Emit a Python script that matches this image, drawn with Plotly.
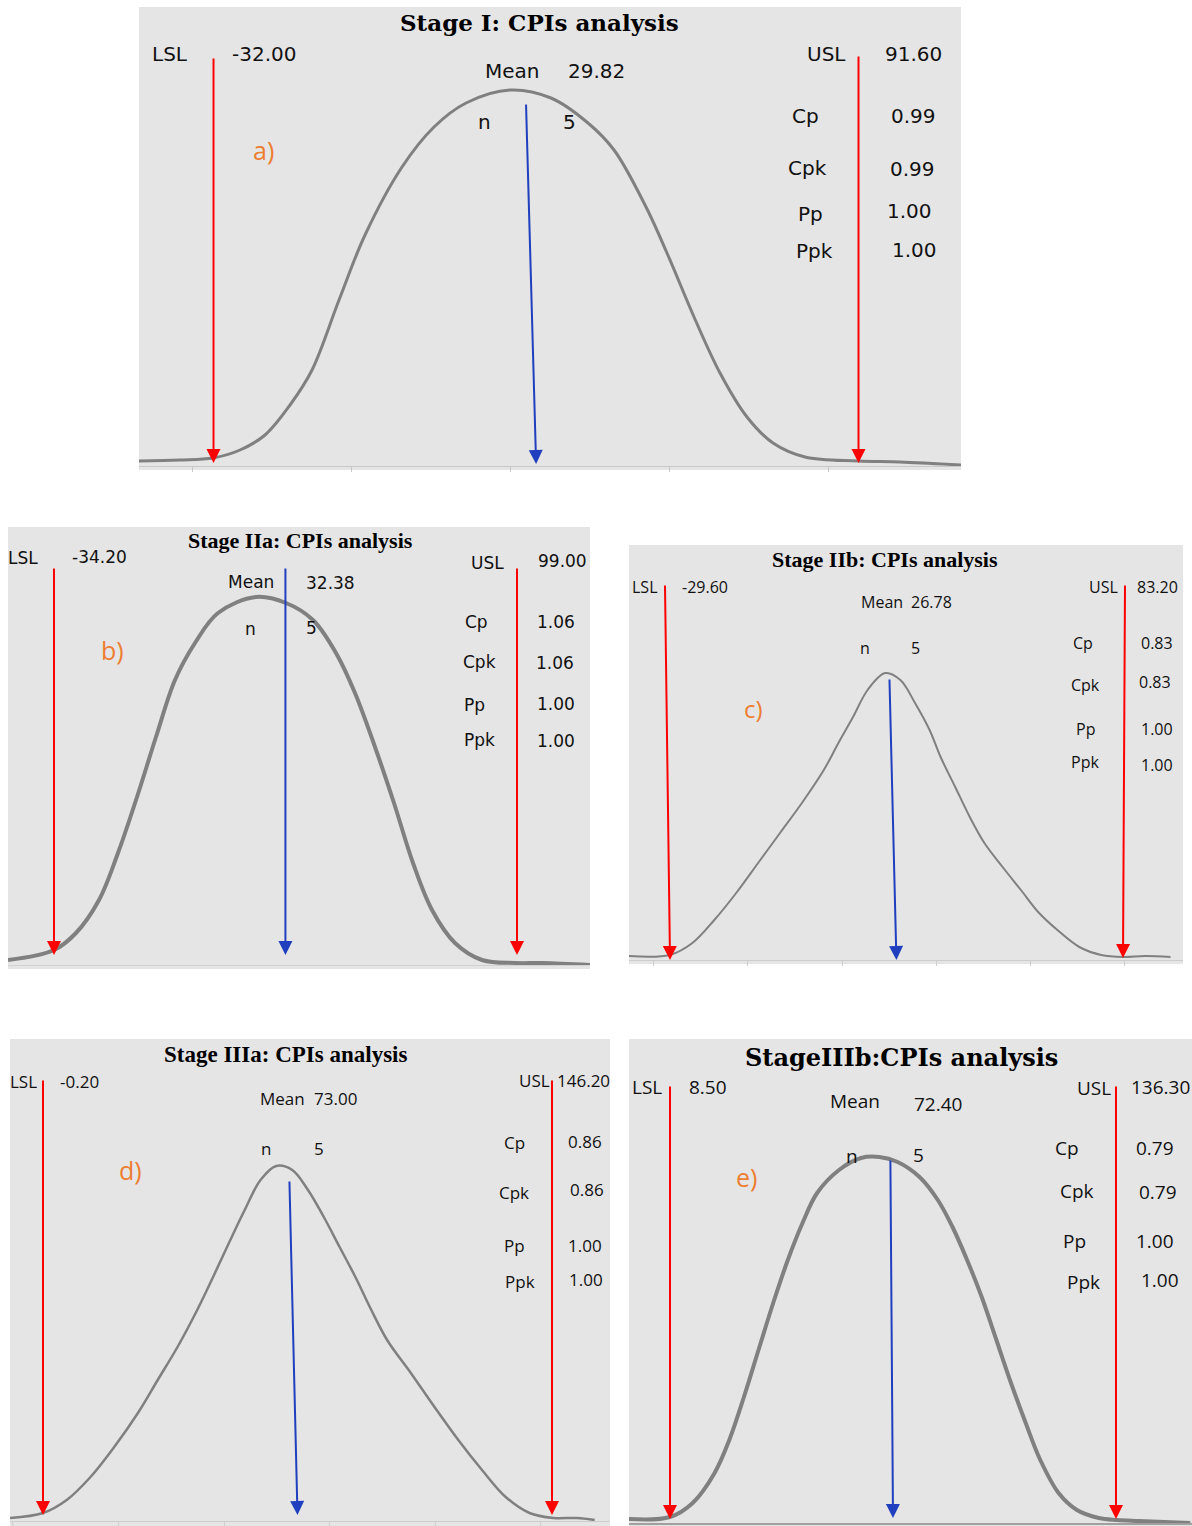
import plotly.graph_objects as go

W, H = 1192, 1526

# ---------------- data ----------------
# Panel a) Stage I
a_title = "Stage I: CPIs analysis"
a_tag = "a)"
a_lsl, a_usl, a_mean, a_n = -32.00, 91.60, 29.82, 5
a_stats = [("Cp", 0.99), ("Cpk", 0.99), ("Pp", 1.00), ("Ppk", 1.00)]
a_curve_x = [-46.28, -38.42, -32.1, -26.92, -22.13, -17.34, -13.12, -7.95, -2.97, 4.12, 10.25, 16.39,
             24.82, 32.67, 39.76, 44.75, 50.88, 54.9, 60.08, 65.06, 70.23, 75.22, 81.35, 91.5, 99.55, 111.24]
a_curve_y = [5, 6, 8, 16, 31, 61, 96, 166, 231, 299, 339, 363,
             376, 368, 343, 316, 259, 213, 149, 93, 49, 23, 9, 5, 4, 1]
a_mean_arrow_top = 27.88

# Panel b) Stage IIa
b_title = "Stage IIa: CPIs analysis"
b_tag = "b)"
b_lsl, b_usl, b_mean, b_n = -34.20, 99.00, 32.38, 5
b_stats = [("Cp", 1.06), ("Cpk", 1.06), ("Pp", 1.00), ("Ppk", 1.00)]
b_curve_x = [-47.43, -34.2, -27.87, -21.25, -15.79, -10.32, -4.86, 0.61, 6.36, 12.98, 23.91, 32.54,
             40.31, 46.93, 52.39, 58.15, 63.61, 69.08, 74.55, 81.16, 88.93, 98.71, 106.48, 120.0]
b_curve_y = [5, 15, 32, 65, 112, 168, 228, 285, 322, 352, 368, 362,
             345, 312, 272, 218, 162, 102, 55, 22, 5, 2, 2, 0]
b_mean_arrow_top = 32.38

# Panel c) Stage IIb
c_title = "Stage IIb: CPIs analysis"
c_tag = "c)"
c_lsl, c_usl, c_mean, c_n = -29.60, 83.20, 26.78, 5
c_stats = [("Cp", 0.83), ("Cpk", 0.83), ("Pp", 1.00), ("Ppk", 1.00)]
c_curve_x = [-39.81, -29.67, -24.02, -18.57, -13.12, -7.66, -2.21, 3.24, 8.70, 12.33, 15.97, 19.60,
             23.96, 27.77, 31.41, 35.04, 37.78, 41.42, 45.05, 48.69, 53.22, 57.78, 62.31, 66.86,
             72.32, 77.77, 83.22, 88.68, 95.03]
c_curve_y = [4, 5, 17, 40, 67, 97, 127, 157, 190, 217, 243, 270,
             287, 280, 257, 230, 203, 173, 143, 117, 93, 70, 47, 30,
             13, 5, 3, 4, 3]
c_mean_arrow_top = 25.04

# Panel d) Stage IIIa
d_title = "Stage IIIa: CPIs analysis"
d_tag = "d)"
d_lsl, d_usl, d_mean, d_n = -0.20, 146.20, 73.00, 5
d_stats = [("Cp", 0.86), ("Cpk", 0.86), ("Pp", 1.00), ("Ppk", 1.00)]
d_curve_x = [-9.69, -0.2, 6.62, 13.46, 20.28, 27.10, 32.79, 38.49, 44.15, 48.72, 53.27, 57.81, 62.36,
             66.90, 71.48, 76.02, 80.56, 85.11, 89.65, 94.23, 98.77, 105.59, 112.40, 119.25, 126.07,
             132.88, 139.73, 146.54, 153.36, 158.48]
d_curve_y = [3, 8, 21, 44, 74, 108, 141, 174, 211, 244, 278, 311, 341,
             355, 351, 331, 304, 274, 244, 211, 181, 148, 114, 81, 51,
             24, 8, 3, 3, 1]
d_mean_arrow_top = 70.67

# Panel e) Stage IIIb
e_title = "StageIIIb:CPIs analysis"
e_tag = "e)"
e_lsl, e_usl, e_mean, e_n = 8.50, 136.30, 72.40, 5
e_stats = [("Cp", 0.79), ("Cpk", 0.79), ("Pp", 1.00), ("Ppk", 1.00)]
e_curve_x = [-3.25, 8.5, 15.0, 21.28, 25.49, 29.68, 33.86, 38.07, 42.26, 46.47, 50.65, 56.93, 63.23,
             68.47, 73.72, 80.0, 85.24, 89.45, 93.63, 97.82, 102.03, 106.21, 110.43, 114.61, 119.85,
             125.1, 131.37, 136.61, 142.92, 157.59]
e_curve_y = [4, 6, 20, 50, 83, 126, 173, 220, 263, 300, 330, 353, 365,
             366, 361, 346, 323, 296, 263, 226, 183, 140, 100, 63, 30,
             13, 5, 3, 2, 0]
e_mean_arrow_top = 71.65

# ---------------- styling / geometry ----------------
PANEL_BG = "#e5e5e5"
RED = "#ff0000"
BLUE = "#1f3fbf"
ORANGE = "#ed7d31"
TXT = "#111111"

panels = [
    dict(title=a_title, tag=a_tag, lsl=a_lsl, usl=a_usl, mean=a_mean, n=a_n, stats=a_stats,
         cx=a_curve_x, cy=a_curve_y, mtop=a_mean_arrow_top, lsl_top=a_lsl, usl_top=a_usl,
         box=(139, 961, 7, 466, 470), xr=[-46.28, 111.24],
         ar=dict(lsl=(409, 3), usl=(411, 3), mean=(363, 2)),
         ticks=(24.82, 30.47), axcol="#c8c8c8", axw=1, lw=3,
         tfont=dict(family="DejaVu Serif", size=23, weight="bold"),
         bfont=dict(family="DejaVu Sans", size=20),
         tagsize=25,
         pos=dict(title=(539, 22), lsl_lab=(170, 54), lsl_val=(264, 54), usl_lab=(826, 54),
                  usl_val=(913, 54), mean_lab=(512, 71), mean_val=(596, 71), n_lab=(484, 122),
                  n_val=(569, 122), tag=(263, 150),
                  slab=[(805, 116), (807, 168), (810, 214), (814, 251)],
                  sval=[(913, 116), (912, 169), (909, 211), (914, 250)])),
    dict(title=b_title, tag=b_tag, lsl=b_lsl, usl=b_usl, mean=b_mean, n=b_n, stats=b_stats,
         cx=b_curve_x, cy=b_curve_y, mtop=b_mean_arrow_top, lsl_top=b_lsl, usl_top=b_usl,
         box=(8, 590, 527, 965, 969), xr=[-47.43, 120.0],
         ar=dict(lsl=(398, 10), usl=(398, 10), mean=(398, 10)),
         ticks=None, axcol="#d2d2d2", axw=1, lw=4,
         tfont=dict(family="Liberation Serif", size=22, weight="bold"),
         bfont=dict(family="DejaVu Sans", size=17),
         tagsize=25,
         pos=dict(title=(300, 540), lsl_lab=(23, 558), lsl_val=(99, 557), usl_lab=(487, 563),
                  usl_val=(562, 561), mean_lab=(251, 582), mean_val=(330, 583), n_lab=(250, 629),
                  n_val=(311, 628), tag=(112, 650),
                  slab=[(476, 622), (479, 662), (474, 705), (479, 740)],
                  sval=[(556, 622), (555, 663), (556, 704), (556, 741)])),
    dict(title=c_title, tag=c_tag, lsl=c_lsl, usl=c_usl, mean=c_mean, n=c_n, stats=c_stats,
         cx=c_curve_x, cy=c_curve_y, mtop=c_mean_arrow_top, lsl_top=-30.85, usl_top=83.7,
         box=(629, 1183, 545, 960, 964), xr=[-39.81, 98.14],
         ar=dict(lsl=(376, 0), usl=(376, 2), mean=(282, 0)),
         ticks=(13.23, 23.45), axcol="#cdcdcd", axw=1, lw=2,
         tfont=dict(family="Liberation Serif", size=22, weight="bold"),
         bfont=dict(family="Open Sans", size=16),
         tagsize=24,
         pos=dict(title=(885, 559), lsl_lab=(644, 587), lsl_val=(705, 587), usl_lab=(1103, 587),
                  usl_val=(1157, 587), mean_lab=(882, 602), mean_val=(931, 602), n_lab=(865, 648),
                  n_val=(915, 648), tag=(753, 708),
                  slab=[(1083, 643), (1085, 685), (1085, 729), (1085, 762)],
                  sval=[(1157, 643), (1155, 682), (1157, 729), (1157, 765)])),
    dict(title=d_title, tag=d_tag, lsl=d_lsl, usl=d_usl, mean=d_mean, n=d_n, stats=d_stats,
         cx=d_curve_x, cy=d_curve_y, mtop=d_mean_arrow_top, lsl_top=d_lsl, usl_top=d_usl,
         box=(10, 610, 1039, 1521, 1526), xr=[-9.69, 162.88],
         ar=dict(lsl=(442, 6), usl=(442, 6), mean=(341, 6)),
         ticks=(51.86, 30.37), axcol="#cdcdcd", axw=1, lw=2.5,
         tfont=dict(family="Liberation Serif", size=23, weight="bold"),
         bfont=dict(family="Open Sans", size=17),
         tagsize=25,
         pos=dict(title=(286, 1054), lsl_lab=(23, 1081), lsl_val=(79, 1081), usl_lab=(534, 1080),
                  usl_val=(583, 1080), mean_lab=(282, 1098), mean_val=(335, 1098), n_lab=(266, 1148),
                  n_val=(319, 1148), tag=(130, 1170),
                  slab=[(514, 1142), (514, 1192), (514, 1245), (520, 1281)],
                  sval=[(585, 1141), (587, 1189), (585, 1245), (586, 1279)])),
    dict(title=e_title, tag=e_tag, lsl=e_lsl, usl=e_usl, mean=e_mean, n=e_n, stats=e_stats,
         cx=e_curve_x, cy=e_curve_y, mtop=e_mean_arrow_top, lsl_top=e_lsl, usl_top=e_usl,
         box=(629, 1192, 1039, 1523, 1526), xr=[-3.25, 158.08],
         ar=dict(lsl=(438, 4), usl=(438, 4), mean=(364, 5)),
         ticks=None, axcol="#a0a0a0", axw=2, lw=4,
         tfont=dict(family="DejaVu Serif", size=24, weight="bold"),
         bfont=dict(family="Open Sans", size=19),
         tagsize=25,
         pos=dict(title=(901, 1057), lsl_lab=(647, 1087), lsl_val=(708, 1087), usl_lab=(1094, 1088),
                  usl_val=(1160, 1087), mean_lab=(855, 1101), mean_val=(938, 1104), n_lab=(852, 1156),
                  n_val=(918, 1155), tag=(746, 1177),
                  slab=[(1067, 1148), (1077, 1191), (1074, 1241), (1083, 1282)],
                  sval=[(1155, 1148), (1158, 1192), (1155, 1241), (1160, 1280)])),
]


def px(x):
    return x / W


def py(y):
    return 1 - y / H


fig = go.Figure()
annotations = []
shapes = []
layout_axes = {}

for i, p in enumerate(panels, start=1):
    sfx = "" if i == 1 else str(i)
    xr_, yr_ = "x" + sfx, "y" + sfx
    left, right, top, bottom, rect_bottom = p["box"]
    hpx = bottom - top

    # gray panel background
    shapes.append(dict(type="rect", xref="paper", yref="paper", x0=px(left), x1=px(right),
                       y0=py(rect_bottom), y1=py(top), fillcolor=PANEL_BG, line=dict(width=0),
                       layer="below"))

    xa = dict(domain=[px(left), px(right)], range=p["xr"], anchor=yr_, showgrid=False,
              zeroline=False, showticklabels=False, showline=True, linecolor=p["axcol"],
              linewidth=p["axw"], fixedrange=True)
    if p["ticks"]:
        xa.update(ticks="outside", tick0=p["ticks"][0], dtick=p["ticks"][1], ticklen=5,
                  tickcolor=p["axcol"], tickwidth=1, tickmode="linear")
    else:
        xa.update(ticks="")
    ya = dict(domain=[py(bottom), py(top)], range=[0, hpx], anchor=xr_, visible=False,
              fixedrange=True)
    layout_axes["xaxis" + sfx] = xa
    layout_axes["yaxis" + sfx] = ya

    # distribution curve
    fig.add_trace(go.Scatter(x=p["cx"], y=p["cy"], mode="lines", xaxis=xr_, yaxis=yr_,
                             line=dict(color="#808080", width=p["lw"], shape="spline", smoothing=1),
                             hoverinfo="skip", showlegend=False))

    # arrows: LSL, USL (red), mean (blue)
    for key, xtip, xtail, col in [("lsl", p["lsl"], p["lsl_top"], RED),
                                  ("usl", p["usl"], p["usl_top"], RED),
                                  ("mean", p["mean"], p["mtop"], BLUE)]:
        ytail, ytip = p["ar"][key]
        annotations.append(dict(x=xtip, y=ytip, ax=xtail, ay=ytail, xref=xr_, yref=yr_,
                                axref=xr_, ayref=yr_, text="", showarrow=True, arrowhead=2,
                                arrowsize=1.4, arrowwidth=2, arrowcolor=col, standoff=0,
                                startstandoff=0))

    pos = p["pos"]
    bf = dict(p["bfont"], color=TXT)

    def add_text(txt, xy, font):
        annotations.append(dict(x=px(xy[0]), y=py(xy[1]), xref="paper", yref="paper", text=txt,
                                showarrow=False, xanchor="center", yanchor="middle", font=font))

    add_text(p["title"], pos["title"], dict(p["tfont"], color="#000000"))
    add_text("LSL", pos["lsl_lab"], bf)
    add_text(f"{p['lsl']:.2f}", pos["lsl_val"], bf)
    add_text("USL", pos["usl_lab"], bf)
    add_text(f"{p['usl']:.2f}", pos["usl_val"], bf)
    add_text("Mean", pos["mean_lab"], bf)
    add_text(f"{p['mean']:.2f}", pos["mean_val"], bf)
    add_text("n", pos["n_lab"], bf)
    add_text(str(p["n"]), pos["n_val"], bf)
    for (lab, val), lxy, vxy in zip(p["stats"], pos["slab"], pos["sval"]):
        add_text(lab, lxy, bf)
        add_text(f"{val:.2f}", vxy, bf)
    add_text(p["tag"], pos["tag"], dict(family="Open Sans", size=p["tagsize"], color=ORANGE))

fig.update_layout(width=W, height=H, margin=dict(l=0, r=0, t=0, b=0, pad=0),
                  paper_bgcolor="white", plot_bgcolor="rgba(0,0,0,0)",
                  showlegend=False, annotations=annotations, shapes=shapes, **layout_axes)

fig.write_html("out.html", config={"displayModeBar": False},
               post_script="document.body.style.margin='0';")
